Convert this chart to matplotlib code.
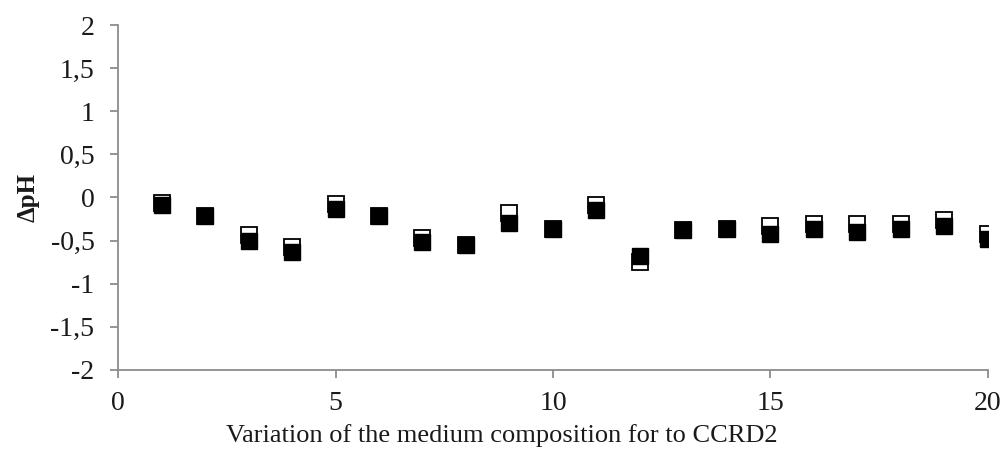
import matplotlib
matplotlib.use("Agg")
import matplotlib.pyplot as plt
from matplotlib.ticker import FuncFormatter

x = list(range(1, 21))
open_series = [-0.06, -0.21, -0.44, -0.57, -0.07, -0.21, -0.47, -0.55, -0.18, -0.36,
               -0.09, -0.75, -0.38, -0.36, -0.33, -0.31, -0.31, -0.31, -0.26, -0.42]
filled_series = [-0.085, -0.21, -0.50, -0.63, -0.13, -0.21, -0.52, -0.55, -0.29, -0.36,
                 -0.14, -0.68, -0.38, -0.36, -0.42, -0.36, -0.40, -0.37, -0.33, -0.48]
xticks = [0, 5, 10, 15, 20]
yticks = [-2, -1.5, -1, -0.5, 0, 0.5, 1, 1.5, 2]

plt.rcParams['font.family'] = ['Liberation Serif', 'DejaVu Serif']

fig = plt.figure(figsize=(10.06, 4.63), dpi=100)
ax = fig.add_axes([0.1173, 0.2009, 0.8648, 0.7451])

ax.plot(x, open_series, linestyle='none', marker='s', markersize=11.5,
        markerfacecolor='white', markeredgecolor='black', markeredgewidth=1.3, zorder=3)
ax.plot(x, filled_series, linestyle='none', marker='s', markersize=11.5,
        markerfacecolor='black', markeredgecolor='black', markeredgewidth=1.0, zorder=4)

ax.set_xlim(0, 20)
ax.set_ylim(-2, 2)
ax.set_xticks(xticks)
ax.set_yticks(yticks)

def fmt(v, pos):
    return ('%g' % v).replace('.', ',')
ax.yaxis.set_major_formatter(FuncFormatter(fmt))

for s in ['top', 'right']:
    ax.spines[s].set_visible(False)
for s in ['left', 'bottom']:
    ax.spines[s].set_color('#8c8c8c')
    ax.spines[s].set_linewidth(1.3)
ax.tick_params(axis='both', direction='out', length=6, width=1.3, color='#8c8c8c',
               labelsize=20, labelcolor='#1a1a1a')
ax.tick_params(axis='y', pad=11)
ax.tick_params(axis='x', pad=9)

ax.set_xlabel('Variation of the medium composition for to CCRD2', fontsize=19,
              color='#1a1a1a')
ax.xaxis.set_label_coords(0.441, -0.158)
ax.set_ylabel('ΔpH', fontsize=18, fontweight='bold', color='#1a1a1a')
ax.yaxis.set_label_coords(-0.09, 0.5)

fig.savefig('out.png', dpi=100)
